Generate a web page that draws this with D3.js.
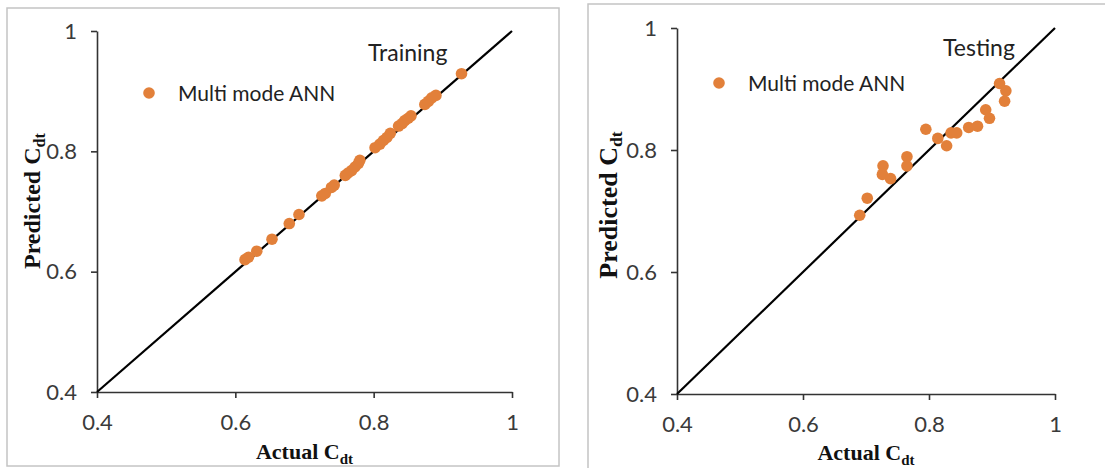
<!DOCTYPE html>
<html>
<head>
<meta charset="utf-8">
<script src="https://cdn.jsdelivr.net/npm/d3@7"></script>
<style>
  body { margin: 0; background: #fff; }
  svg { display: block; }
  .tick text { font-family: Lato, 'Open Sans', sans-serif; font-size: 22px; fill: #3a3a3a; }
  .tick line, .domain { stroke: #333; stroke-width: 1.6px; }
  .axis-title { font-family: 'Liberation Serif', 'Times New Roman', serif; font-weight: bold; fill: #111; }
  .legend-text, .panel-title { font-family: Lato, 'Open Sans', sans-serif; fill: #222; }
</style>
</head>
<body>
<svg width="1105" height="468"></svg>
<script>
const svg = d3.select('svg');

// axis ticks shared by both panels
const tickValues = [0.4, 0.6, 0.8, 1];
const axisDomain = [0.4, 1];

// training set (actual vs predicted Cdt)
const trainActual = [0.614, 0.619, 0.631, 0.653, 0.678, 0.692, 0.725, 0.730, 0.739, 0.743,
    0.759, 0.763, 0.768, 0.773, 0.778, 0.780, 0.802, 0.809, 0.814, 0.819,
    0.824, 0.836, 0.841, 0.845, 0.850, 0.854, 0.874, 0.879, 0.884, 0.890, 0.927];
const trainPredicted = [0.620, 0.624, 0.634, 0.654, 0.680, 0.695, 0.726, 0.730, 0.740, 0.744,
    0.760, 0.764, 0.768, 0.774, 0.780, 0.785, 0.806, 0.812, 0.818, 0.823,
    0.830, 0.842, 0.846, 0.851, 0.855, 0.859, 0.878, 0.883, 0.889, 0.893, 0.929];

// testing set
const testActual = [0.690, 0.702, 0.727, 0.726, 0.739, 0.765, 0.765, 0.795, 0.814, 0.828,
    0.835, 0.844, 0.863, 0.877, 0.890, 0.896, 0.912, 0.922, 0.920];
const testPredicted = [0.693, 0.721, 0.774, 0.760, 0.753, 0.789, 0.774, 0.834, 0.819, 0.807,
    0.828, 0.828, 0.837, 0.839, 0.866, 0.852, 0.909, 0.897, 0.880];

const legendLabel = 'Multi mode ANN';
const dotColor = '#E2803A';
const dotRadius = 5.8;

const render = p => {
    // panel frame
    svg.append('rect')
        .attr('x', p.frame[0]).attr('y', p.frame[1])
        .attr('width', p.frame[2]).attr('height', p.frame[3])
        .attr('fill', 'none')
        .attr('stroke', '#c4c4c4')
        .attr('stroke-width', 1.5);

    const xScale = d3.scaleLinear().domain(axisDomain).range(p.xRange);
    const yScale = d3.scaleLinear().domain(axisDomain).range(p.yRange);

    const fmt = d => String(d);

    const xAxis = d3.axisBottom(xScale)
        .tickValues(tickValues)
        .tickFormat(fmt)
        .tickSize(6)
        .tickSizeOuter(0)
        .tickPadding(16);

    const yAxis = d3.axisLeft(yScale)
        .tickValues(tickValues)
        .tickFormat(fmt)
        .tickSize(6)
        .tickSizeOuter(0)
        .tickPadding(14);

    svg.append('g')
        .attr('transform', `translate(0,${p.yRange[0]})`)
        .call(xAxis);

    svg.append('g')
        .attr('transform', `translate(${p.xRange[0]},0)`)
        .call(yAxis);

    // 1:1 line
    const lineGenerator = d3.line()
        .x(d => xScale(d))
        .y(d => yScale(d));

    svg.append('path')
        .attr('d', lineGenerator(axisDomain))
        .attr('fill', 'none')
        .attr('stroke', '#000')
        .attr('stroke-width', 2.2);

    svg.append('g').selectAll('circle')
        .data(p.actual.map((a, i) => ({ a, b: p.predicted[i] })))
        .enter().append('circle')
        .attr('cx', d => xScale(d.a))
        .attr('cy', d => yScale(d.b))
        .attr('r', dotRadius)
        .attr('fill', dotColor);

    // legend
    svg.append('circle')
        .attr('cx', p.legend[0]).attr('cy', p.legend[1])
        .attr('r', dotRadius)
        .attr('fill', dotColor);

    svg.append('text')
        .attr('class', 'legend-text')
        .attr('x', p.legend[0] + 29)
        .attr('y', p.legend[1] + 8)
        .attr('font-size', 21)
        .text(legendLabel);

    svg.append('text')
        .attr('class', 'panel-title')
        .attr('x', p.title[0])
        .attr('y', p.title[1])
        .attr('font-size', 23)
        .text(p.title[2]);

    // axis titles with subscript
    const xt = svg.append('text')
        .attr('class', 'axis-title')
        .attr('x', (p.xRange[0] + p.xRange[1]) / 2)
        .attr('y', p.xTitleY)
        .attr('text-anchor', 'middle')
        .attr('font-size', 22);
    xt.append('tspan').text('Actual C');
    xt.append('tspan').attr('font-size', 15).attr('dy', 5).text('dt');

    const yt = svg.append('text')
        .attr('class', 'axis-title')
        .attr('transform', `translate(${p.yTitle[0]},${p.yTitle[1]}) rotate(-90)`)
        .attr('text-anchor', 'middle')
        .attr('font-size', p.yTitle[2]);
    yt.append('tspan').text('Predicted C');
    yt.append('tspan').attr('font-size', p.yTitle[2] * 0.68).attr('dy', 5).text('dt');
};

render({
    frame: [7, 8, 552, 458],
    xRange: [97, 512],
    yRange: [392, 31],
    actual: trainActual,
    predicted: trainPredicted,
    legend: [149, 93],
    title: [368, 61, 'Training'],
    xTitleY: 459,
    yTitle: [40, 201, 24]
});

render({
    frame: [588, 4, 530, 480],
    xRange: [677, 1055],
    yRange: [394, 28],
    actual: testActual,
    predicted: testPredicted,
    legend: [719, 83],
    title: [943, 56, 'Testing'],
    xTitleY: 460,
    yTitle: [617, 205, 26]
});
</script>
</body>
</html>
